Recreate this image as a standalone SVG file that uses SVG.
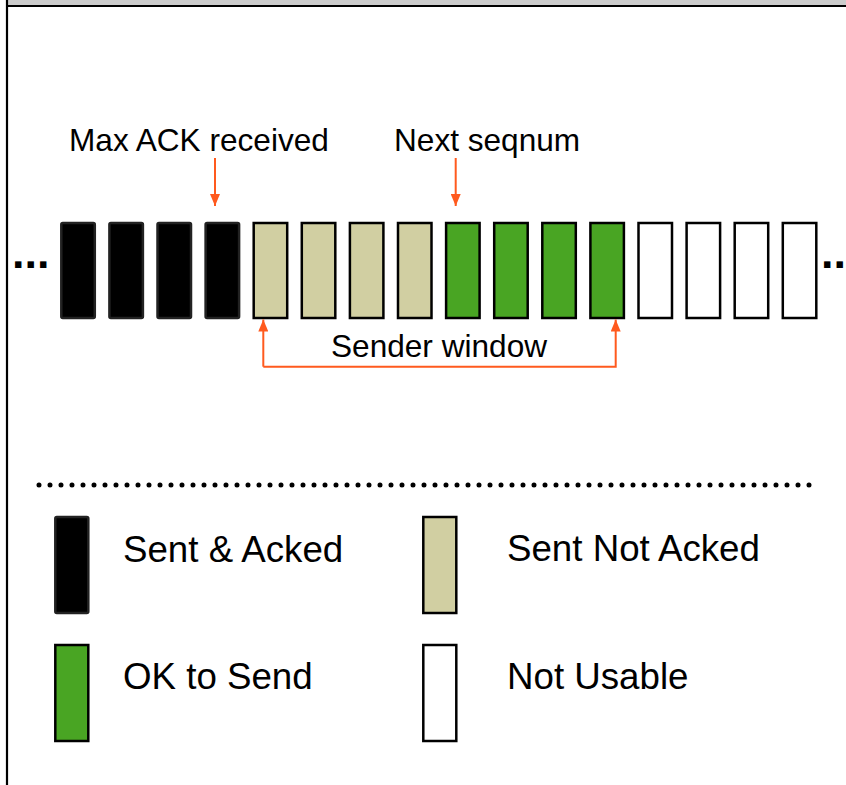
<svg xmlns="http://www.w3.org/2000/svg" width="846" height="785" viewBox="0 0 846 785">
  <defs>
    <marker id="head" viewBox="0 0 12 10" refX="12" refY="5" markerWidth="12" markerHeight="10" markerUnits="userSpaceOnUse" orient="auto">
      <path d="M0,0 L12,5 L0,10 z" fill="#FF5A1E"/>
    </marker>
  </defs>
  <style>
    text { font-family: "Liberation Sans", Arial, sans-serif; fill: #000; }
    .lbl { font-size: 31.6px; }
    .leg { font-size: 36.7px; }
    .dots { font-size: 45px; font-weight: bold; }
    .cell { stroke: #000; stroke-width: 2.5; }
    .acked { fill: #000; stroke: #222; }
    .sent { fill: #D1CFA2; }
    .ok { fill: #49A523; }
    .unusable { fill: #fff; }
    .conn { fill: none; stroke: #FF5A1E; stroke-width: 2; marker-end: url(#head); }
  </style>

  <!-- frame -->
  <rect x="7" y="0" width="839" height="5.5" fill="#cccccc"/>
  <line x1="7" y1="6" x2="846" y2="6" stroke="#000" stroke-width="2"/>
  <line x1="7" y1="0" x2="7" y2="785" stroke="#000" stroke-width="2.2"/>

  <!-- labels -->
  <text class="lbl" x="69" y="151">Max ACK received</text>
  <text class="lbl" x="394" y="151">Next seqnum</text>
  <text class="lbl" x="331" y="357">Sender window</text>

  <!-- sequence-number cells -->
  <g id="seq">
    <text class="dots" x="12" y="268">...</text>
    <g id="cell-1"><rect class="cell acked" x="61.3" y="223" width="33.5" height="95" rx="1.5"/></g>
    <g id="cell-2"><rect class="cell acked" x="109.4" y="223" width="33.5" height="95" rx="1.5"/></g>
    <g id="cell-3"><rect class="cell acked" x="157.5" y="223" width="33.5" height="95" rx="1.5"/></g>
    <g id="cell-4"><rect class="cell acked" x="205.6" y="223" width="33.5" height="95" rx="1.5"/></g>
    <g id="cell-5"><rect class="cell sent" x="253.7" y="223" width="33.5" height="95"/></g>
    <g id="cell-6"><rect class="cell sent" x="301.8" y="223" width="33.5" height="95"/></g>
    <g id="cell-7"><rect class="cell sent" x="349.9" y="223" width="33.5" height="95"/></g>
    <g id="cell-8"><rect class="cell sent" x="398.0" y="223" width="33.5" height="95"/></g>
    <g id="cell-9"><rect class="cell ok" x="446.1" y="223" width="33.5" height="95"/></g>
    <g id="cell-10"><rect class="cell ok" x="494.2" y="223" width="33.5" height="95"/></g>
    <g id="cell-11"><rect class="cell ok" x="542.3" y="223" width="33.5" height="95"/></g>
    <g id="cell-12"><rect class="cell ok" x="590.4" y="223" width="33.5" height="95"/></g>
    <g id="cell-13"><rect class="cell unusable" x="638.5" y="223" width="33.5" height="95"/></g>
    <g id="cell-14"><rect class="cell unusable" x="686.6" y="223" width="33.5" height="95"/></g>
    <g id="cell-15"><rect class="cell unusable" x="734.7" y="223" width="33.5" height="95"/></g>
    <g id="cell-16"><rect class="cell unusable" x="782.8" y="223" width="33.5" height="95"/></g>
    <text class="dots" x="821" y="268">...</text>
  </g>

  <!-- pointers -->
  <g id="connectors">
    <path class="conn" d="M215,158 V206"/>
    <path class="conn" d="M455.7,158 V206"/>
    <path class="conn" d="M263.3,366.7 V319.5"/>
    <path class="conn" d="M263.3,366.7 H615.7 V319.5"/>
  </g>

  <!-- separator -->
  <line x1="39" y1="485" x2="810" y2="485" stroke="#000" stroke-width="5" stroke-linecap="round" stroke-dasharray="0 11"/>

  <!-- legend -->
  <g id="legend-acked">
    <rect class="cell acked" x="55.3" y="517" width="33" height="96" rx="1.5"/>
    <text class="leg" x="123" y="562">Sent &amp; Acked</text>
  </g>
  <g id="legend-sent">
    <rect class="cell sent" x="423.3" y="517" width="33" height="96"/>
    <text class="leg" x="507" y="561">Sent Not Acked</text>
  </g>
  <g id="legend-ok">
    <rect class="cell ok" x="55.3" y="645" width="33" height="96"/>
    <text class="leg" x="123" y="689">OK to Send</text>
  </g>
  <g id="legend-unusable">
    <rect class="cell unusable" x="423.3" y="645" width="33" height="96"/>
    <text class="leg" x="507" y="689">Not Usable</text>
  </g>
</svg>
